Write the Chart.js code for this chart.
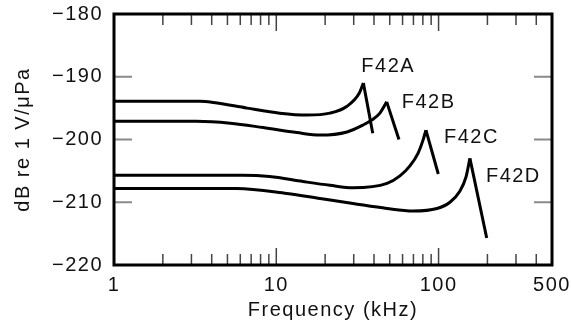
<!DOCTYPE html>
<html>
<head>
<meta charset="utf-8">
<script src="https://cdn.jsdelivr.net/npm/chart.js@4.4.1/dist/chart.umd.min.js"></script>
<style>
  html, body { margin: 0; padding: 0; background: #fff; }
  canvas { display: block; }
</style>
</head>
<body>
<canvas id="chart_resp" width="571" height="331"></canvas>
<script>
// response curves, frequency in kHz and level in dB re 1 V/uPa
var seriesNames = ["F42A", "F42B", "F42C", "F42D"];

var freqA = [1, 3.4, 4.1, 6.6, 10.5, 15.5, 21.4, 27.3, 32.5, 34.4, 39.3];
var dbA   = [-193.9, -193.9, -194.1, -195.0, -195.8, -196.1, -195.8, -194.7, -192.6, -191.0, -199.0];

var freqB = [1, 3.2, 5.2, 8.3, 13.4, 18.6, 27.3, 34.2, 38.8, 43.5, 47.9, 57];
var dbB   = [-197.1, -197.1, -197.4, -198.1, -198.9, -199.3, -198.8, -197.7, -196.9, -195.8, -194.0, -200.0];

var freqC = [1, 6.2, 9.1, 14.6, 21.4, 29.7, 48.1, 57.8, 66.6, 74.7, 80.2, 83.6, 99.6];
var dbC   = [-205.7, -205.7, -205.9, -206.7, -207.3, -207.7, -207.0, -205.8, -204.2, -202.2, -200.1, -198.5, -205.5];

var freqD = [1, 5.7, 11.6, 18.6, 29.7, 48.1, 69.6, 97.8, 117.5, 135.5, 147.5, 156, 198];
var dbD   = [-207.8, -207.8, -208.6, -209.4, -210.2, -211.0, -211.4, -211.0, -210.0, -208.2, -206.0, -203.0, -215.7];

var xTickLabels = [1, 10, 100, 500];
var xMinorTicks = [2, 3, 4, 5, 6, 7, 8, 9, 20, 30, 40, 50, 60, 70, 80, 90, 200, 300, 400];
var xMajorTicks = [10, 100];
var yInnerTicks = [-190, -200, -210];

var allFreq = [freqA, freqB, freqC, freqD];
var allDb = [dbA, dbB, dbC, dbD];

const FONT = { family: "'Liberation Sans', Arial, sans-serif", size: 20 };
const SPACING = '1.5px';

// where each name sits relative to the peak of its curve
const labelOffsets = [[-2, -17], [15, 1], [18, 7], [16, 18]];

const toPts = (fx, fy) => fx.map((f, i) => ({ x: f, y: fy[i] }));

// smooth rising part up to the resonance peak, then a straight fall
var datasets = [];
allFreq.forEach((f, s) => {
  var pts = toPts(f, allDb[s]);
  var n = pts.length;
  datasets.push({
    label: seriesNames[s],
    data: pts.slice(0, n - 1),
    cubicInterpolationMode: 'monotone'
  });
  datasets.push({
    label: seriesNames[s] + ' fall',
    data: pts.slice(n - 2),
    tension: 0
  });
});
datasets.forEach(d => {
  d.borderColor = '#000';
  d.borderWidth = 3;
  d.pointRadius = 0;
  d.fill = false;
});

const frame = {
  id: 'frame',
  beforeUpdate(chart) { chart.ctx.letterSpacing = SPACING; },
  beforeDraw(chart) { chart.ctx.letterSpacing = SPACING; },
  afterDatasetsDraw(chart) {
    const { ctx, chartArea: a, scales: { x, y } } = chart;
    ctx.save();
    ctx.letterSpacing = SPACING;

    ctx.lineWidth = 1.5;
    ctx.strokeStyle = '#444';
    ctx.beginPath();
    xMinorTicks.forEach(v => {
      const px = x.getPixelForValue(v);
      ctx.moveTo(px, a.bottom); ctx.lineTo(px, a.bottom - 11);
      ctx.moveTo(px, a.top); ctx.lineTo(px, a.top + 11);
    });
    xMajorTicks.forEach(v => {
      const px = x.getPixelForValue(v);
      ctx.moveTo(px, a.bottom); ctx.lineTo(px, a.bottom - 17);
      ctx.moveTo(px, a.top); ctx.lineTo(px, a.top + 17);
    });
    ctx.stroke();

    ctx.lineWidth = 2;
    ctx.strokeStyle = '#8a8a8a';
    ctx.beginPath();
    yInnerTicks.forEach(v => {
      const py = y.getPixelForValue(v);
      ctx.moveTo(a.left, py); ctx.lineTo(a.left + 18, py);
      ctx.moveTo(a.right, py); ctx.lineTo(a.right - 18, py);
    });
    ctx.stroke();

    ctx.lineWidth = 3;
    ctx.strokeStyle = '#000';
    ctx.strokeRect(a.left, a.top, a.right - a.left, a.bottom - a.top);

    // curve names
    ctx.fillStyle = '#111';
    ctx.font = FONT.size + 'px ' + FONT.family;
    ctx.textAlign = 'left';
    ctx.textBaseline = 'middle';
    allDb.forEach((db, s) => {
      let k = 0;
      db.forEach((v, i) => { if (v > db[k]) k = i; });
      const px = x.getPixelForValue(allFreq[s][k]);
      const py = y.getPixelForValue(db[k]);
      ctx.fillText(seriesNames[s], px + labelOffsets[s][0], py + labelOffsets[s][1]);
    });
    ctx.restore();
  }
};

var ctx = document.getElementById('chart_resp').getContext('2d');
var respChart = new Chart(ctx, {
  type: 'line',
  data: { datasets: datasets },
  options: {
    responsive: false,
    animation: false,
    devicePixelRatio: 1,
    layout: { padding: { left: 0, right: 19, top: 14, bottom: 0 } },
    plugins: {
      legend: { display: false },
      tooltip: { enabled: false }
    },
    scales: {
      x: {
        type: 'logarithmic',
        min: 1,
        max: 500,
        grid: { display: false, drawTicks: false },
        border: { display: false },
        afterBuildTicks: s => { s.ticks = xTickLabels.map(v => ({ value: v })); },
        afterFit: s => { s.height = 66; s.paddingLeft = 0; s.paddingRight = 0; },
        ticks: {
          autoSkip: false,
          maxRotation: 0,
          padding: 8,
          color: '#111',
          font: FONT,
          callback: v => String(v)
        },
        title: {
          display: true,
          text: 'Frequency (kHz)',
          color: '#111',
          font: FONT,
          padding: { top: 0, bottom: 9 }
        }
      },
      y: {
        min: -220,
        max: -180,
        grid: { display: false, drawTicks: false },
        border: { display: false },
        afterFit: s => { s.width = 114; s.paddingTop = 0; s.paddingBottom = 0; },
        ticks: {
          stepSize: 10,
          padding: 11,
          color: '#111',
          font: FONT,
          callback: v => (v < 0 ? '\u2212' + Math.abs(v) : String(v))
        },
        title: {
          display: true,
          text: 'dB re 1 V/\u03bcPa',
          color: '#111',
          font: FONT,
          padding: { top: 11, bottom: 0 }
        }
      }
    }
  },
  plugins: [frame]
});
</script>
</body>
</html>
